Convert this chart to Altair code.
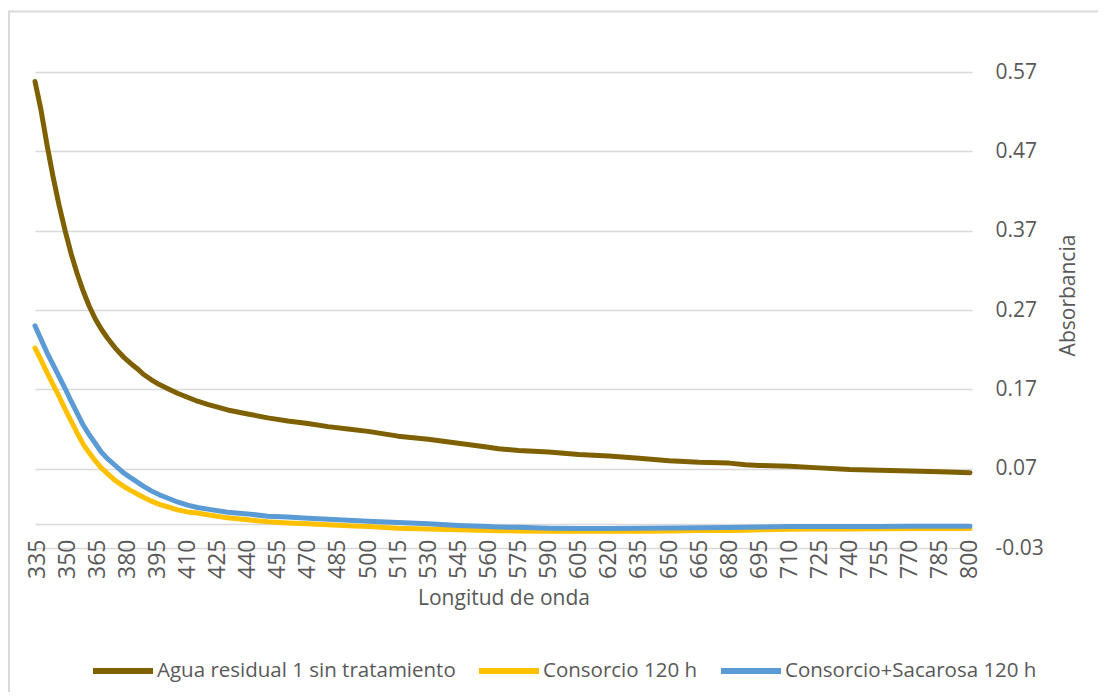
import altair as alt
import pandas as pd

wavelength = [334, 337, 340, 343, 346, 349, 352, 355, 358, 361, 364, 367, 370, 374, 378, 382, 385, 388,
              392, 396, 400, 405, 410, 415, 420, 430, 440, 450, 460, 470, 480, 490, 500, 515, 530, 545,
              560, 565, 575, 590, 605, 620, 635, 650, 665, 680, 688, 695, 710, 725, 740, 755, 770, 785, 800]

agua = [0.558, 0.522, 0.478, 0.438, 0.402, 0.370, 0.341, 0.316, 0.294, 0.275, 0.259, 0.246, 0.235, 0.222,
        0.211, 0.202, 0.196, 0.189, 0.182, 0.176, 0.171, 0.165, 0.160, 0.155, 0.151, 0.144, 0.139, 0.134,
        0.130, 0.127, 0.123, 0.120, 0.117, 0.111, 0.107, 0.102, 0.097, 0.095, 0.093, 0.091, 0.088, 0.086,
        0.083, 0.080, 0.078, 0.077, 0.075, 0.074, 0.073, 0.071, 0.069, 0.068, 0.067, 0.066, 0.065]

consorcio = [0.222, 0.207, 0.191, 0.176, 0.161, 0.145, 0.130, 0.115, 0.101, 0.090, 0.080, 0.071, 0.064,
             0.055, 0.048, 0.042, 0.038, 0.034, 0.029, 0.025, 0.022, 0.018, 0.0155, 0.014, 0.012, 0.008,
             0.0055, 0.003, 0.0015, 0.0005, -0.0008, -0.002, -0.003, -0.005, -0.006, -0.007, -0.008,
             -0.0082, -0.0085, -0.009, -0.009, -0.009, -0.0088, -0.0085, -0.008, -0.0078, -0.0075, -0.007,
             -0.0065, -0.006, -0.006, -0.0058, -0.0055, -0.0055, -0.0055]

sacarosa = [0.250, 0.233, 0.216, 0.201, 0.186, 0.171, 0.155, 0.140, 0.125, 0.113, 0.102, 0.091, 0.083,
            0.074, 0.065, 0.058, 0.053, 0.048, 0.042, 0.037, 0.033, 0.028, 0.024, 0.021, 0.019, 0.015,
            0.013, 0.010, 0.009, 0.0075, 0.0062, 0.005, 0.0038, 0.002, 0.0005, -0.0015, -0.003, -0.0035,
            -0.004, -0.005, -0.0055, -0.0055, -0.005, -0.0048, -0.0045, -0.0042, -0.004, -0.0035, -0.003,
            -0.003, -0.0028, -0.0028, -0.0026, -0.0026, -0.0025]

series_names = ["Agua residual 1 sin tratamiento", "Consorcio 120 h", "Consorcio+Sacarosa 120 h"]
series_colors = ["#7F6000", "#FFC000", "#5B9BD5"]

x_ticks = list(range(335, 801, 15))
y_ticks = [-0.03, 0.07, 0.17, 0.27, 0.37, 0.47, 0.57]

rows = []
for name, vals in zip(series_names, [agua, consorcio, sacarosa]):
    for w, v in zip(wavelength, vals):
        rows.append({"wl": w, "abs": v, "serie": name})
df = pd.DataFrame(rows)

FONT = "Open Sans"
TXT = "#595959"
GRID = "#D9D9D9"

lines = alt.Chart(df).mark_line(strokeWidth=5, strokeCap="round", strokeJoin="round").encode(
    x=alt.X("wl:Q",
            scale=alt.Scale(domain=[334, 801], nice=False, zero=False),
            axis=alt.Axis(values=x_ticks, labelAngle=270, labelAlign="right", labelBaseline="middle",
                          labelFontSize=23, labelColor=TXT, labelFont=FONT, labelPadding=15,
                          ticks=False, grid=False, domainColor=GRID, domainWidth=1.3, offset=-24,
                          title="Longitud de onda", titleFont=FONT, titleFontSize=21,
                          titleFontWeight="normal", titleColor=TXT, titlePadding=9,
                          labelOverlap=False)),
    y=alt.Y("abs:Q",
            scale=alt.Scale(domain=[-0.03, 0.57], nice=False, zero=False),
            axis=alt.Axis(orient="right", values=y_ticks,
                          labelExpr="replace(format(datum.value, '.2f'), '\u2212', '-')",
                          labelFontSize=21, labelColor=TXT, labelFont=FONT, labelAlign="left",
                          labelPadding=23, ticks=False, domain=False, grid=True, gridColor=GRID,
                          gridWidth=1.3, title="Absorbancia", titleFont=FONT, titleFontSize=21,
                          titleFontWeight="normal", titleColor=TXT, titleAngle=270,
                          titleAlign="center", titleBaseline="middle", titleX=96, titleY=223)),
    color=alt.Color("serie:N",
                    scale=alt.Scale(domain=series_names, range=series_colors),
                    sort=series_names,
                    legend=alt.Legend(orient="none", legendX=55, legendY=566, direction="horizontal",
                                      title=None, symbolType="stroke", symbolSize=3600,
                                      symbolStrokeWidth=6, labelFont=FONT, labelFontSize=20.5,
                                      labelColor=TXT, labelOffset=1, columnPadding=11,
                                      padding=0, labelLimit=400)),
    order=alt.Order("wl:Q"),
)

frame_top = alt.Chart(alt.Data(values=[{}])).mark_rule(color=GRID, strokeWidth=2).encode(
    x=alt.value(-27), x2=alt.value(1063), y=alt.value(-60.5))
frame_left = alt.Chart(alt.Data(values=[{}])).mark_rule(color=GRID, strokeWidth=2).encode(
    x=alt.value(-26), y=alt.value(-61), y2=alt.value(620))

chart = alt.layer(frame_top, frame_left, lines).properties(
    width=937, height=476,
    autosize=alt.AutoSizeParams(type="none"),
    padding={"left": 27, "top": 64, "right": 126, "bottom": 144},
).configure(background="white").configure_view(stroke=None)

chart.save("out.html", embed_options={"renderer": "svg", "actions": False})
